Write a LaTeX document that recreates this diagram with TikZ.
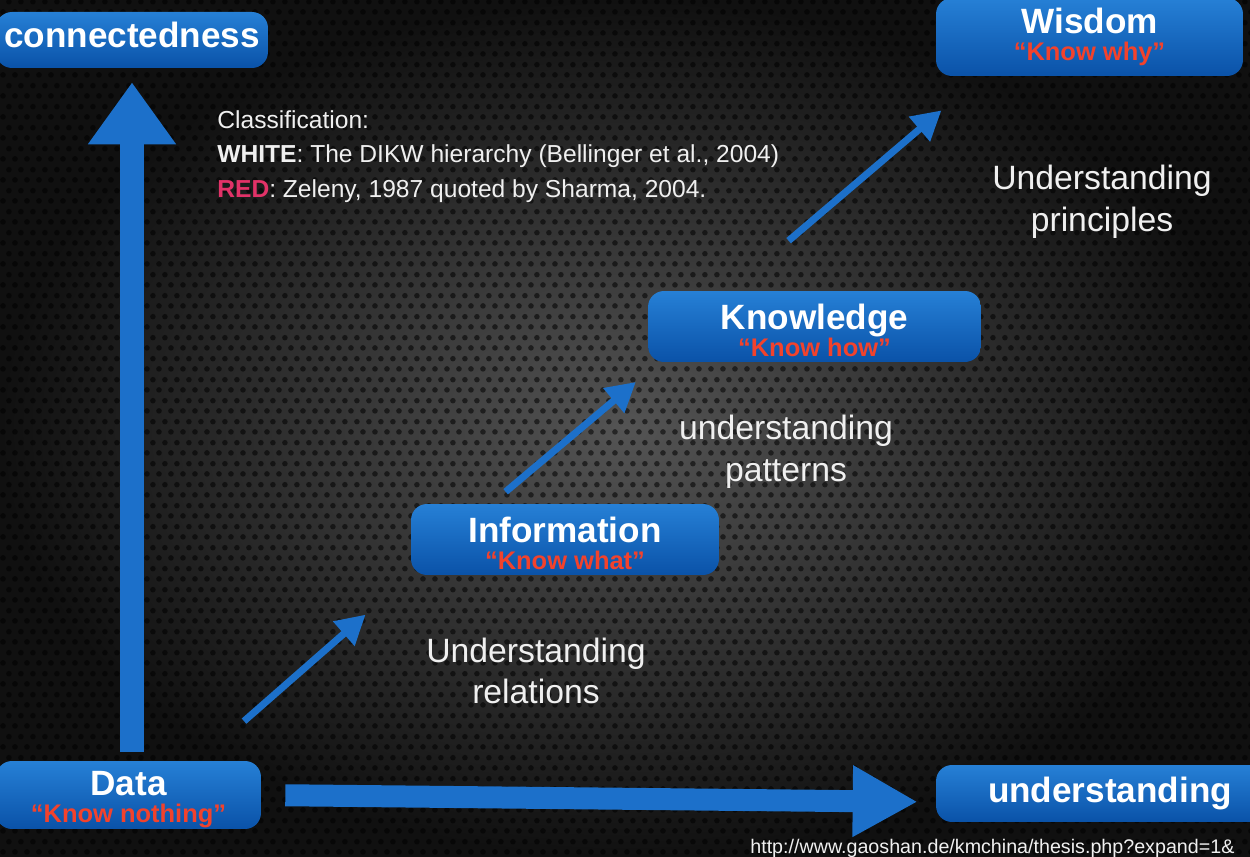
\documentclass[tikz,border=0pt]{standalone}
\usepackage{fontspec}
\setmainfont{Liberation Sans}
\usepackage{xcolor}
\usetikzlibrary{arrows.meta,calc,patterns}

\definecolor{bgdark}{RGB}{16,16,16}
\definecolor{bglight}{RGB}{84,84,84}
\definecolor{boxtop}{RGB}{38,128,214}
\definecolor{boxbottom}{RGB}{10,82,168}
\definecolor{arrowblue}{RGB}{28,112,202}
\definecolor{knowred}{RGB}{242,66,44}
\definecolor{keyred}{RGB}{226,50,104}
\definecolor{softwhite}{RGB}{240,240,240}

\pgfdeclarepatternformonly{mesh}{\pgfqpoint{0pt}{0pt}}{\pgfqpoint{6.8pt}{11.78pt}}{\pgfqpoint{6.8pt}{11.78pt}}{
	\pgfpathcircle{\pgfqpoint{1.7pt}{2.945pt}}{1.6pt}
	\pgfpathcircle{\pgfqpoint{5.1pt}{8.835pt}}{1.6pt}
	\pgfusepath{fill}
}

\newcommand\tightlines{\lineskiplimit=-20pt\relax}

\begin{document}
\begin{tikzpicture}[x=0.02cm,y=-0.02cm,
	dikw/.style={rounded corners=0.32cm, top color=boxtop, bottom color=boxbottom, text=white, font=\bfseries\fontsize{20}{15}\selectfont\tightlines, align=center, inner sep=0pt},
	note/.style={text=softwhite, inner sep=0pt, font=\fontsize{19.2}{23.8}\selectfont, align=center},
	bigarrow/.style={draw=arrowblue},
	thinarrow/.style={draw=arrowblue, line width=0.14cm, -{Triangle[width=0.62cm,length=0.58cm]}}]
	\newcommand\boxstrut{\rule{0pt}{19pt}}
	\newcommand\sayline[1]{\\{\fontsize{14.5}{15}\selectfont\color{knowred}“#1”}}

	\path[use as bounding box, clip] (0,0) rectangle (1250,857);
	\fill[inner color=bglight, outer color=bgdark] (0,0) rectangle (1250,857);
	\path[pattern=mesh, pattern color=black, opacity=0.55] (0,0) rectangle (1250,857);

	\node[dikw, minimum width=5.44cm, minimum height=1.12cm, text depth=0.22cm] (conn) at (132,40) {connectedness};
	\node[dikw, minimum width=6.14cm, minimum height=1.56cm] (wis) at (1089.5,37) {Wisdom\sayline{Know why}};
	\node[dikw, minimum width=6.66cm, minimum height=1.42cm] (know) at (814.5,326.5) {\boxstrut Knowledge\sayline{Know how}};
	\node[dikw, minimum width=6.16cm, minimum height=1.42cm] (info) at (565,539.5) {\boxstrut Information\sayline{Know what}};
	\node[dikw, minimum width=5.3cm, minimum height=1.36cm] (data) at (128.5,795) {\boxstrut Data\sayline{Know nothing}};
	\node[dikw, minimum width=6.96cm, minimum height=1.14cm] (und) at (1110,793.5) {understanding};

	\node[note, anchor=north west, align=left, font=\fontsize{14}{19.6}\selectfont] (key) at (217,110) {Classification:\\\textbf{WHITE}: The DIKW hierarchy (Bellinger et al., 2004)\\\textbf{\color{keyred}RED}: Zeleny, 1987 quoted by Sharma, 2004.};
	\node[note] (rel) at (536,671) {Understanding\\relations};
	\node[note] (pat) at (786,452) {understanding\\patterns};
	\node[note] (prin) at (1102,202) {Understanding\\principles};
	\node[note, anchor=base west, font=\fontsize{11.2}{13}\selectfont] (url) at (750,853) {http://www.gaoshan.de/kmchina/thesis.php?expand=1\&};

	\draw[bigarrow, line width=0.48cm, -{Triangle[width=1.68cm,length=1.24cm]}, shorten <=0.18cm, shorten >=0.28cm] (conn.south |- data.north) -- (conn.south);
	\draw[bigarrow, line width=0.44cm, -{Triangle[width=1.34cm,length=1.3cm]}, shorten <=0.48cm, shorten >=0.36cm] (data.east) -- ($(und.west)+(0,8.5)$);

	\draw[thinarrow, shorten <=1.2cm, shorten >=1.2cm] (data.26) -- (info.193);
	\draw[thinarrow, shorten <=0.37cm, shorten >=0.61cm] (info.154) -- (know.193);
	\draw[thinarrow, shorten <=1.54cm, shorten >=1.05cm] (know.157) -- (wis.200);
\end{tikzpicture}
\end{document}
